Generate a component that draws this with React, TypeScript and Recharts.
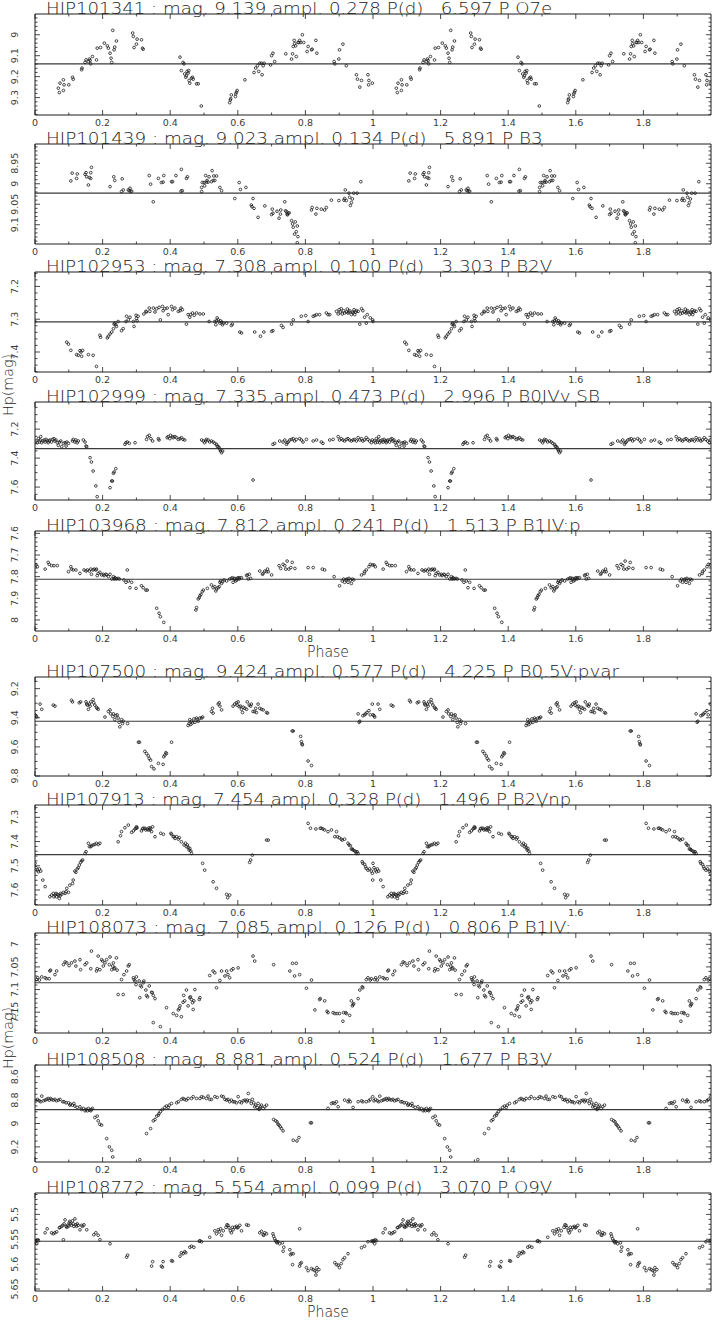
import React from 'react';
import { ScatterChart, Scatter, XAxis, YAxis, ReferenceLine } from 'recharts';

type Pt = [number, number]; // [phase, Hp mag], phase 0-1, plotted twice

const W = 713;
const H = 1321;
const PLOT_LEFT = 35;
const PLOT_RIGHT = 711;
const PAD_TOP = 4;
const AXIS_H = 20;
const INK = '#1c1c1c';
const TEXT = '#222';
const TICK_TEXT = '#3c3c3c';
const FONT = "'DejaVu Sans', 'Liberation Sans', sans-serif";

const phaseLabels = [0, 0.2, 0.4, 0.6, 0.8, 1, 1.2, 1.4, 1.6, 1.8];

const hip101341: Pt[] = [
  [0.069, 9.255], [0.072, 9.276], [0.074, 9.231], [0.084, 9.215], [0.086, 9.239], [0.084, 9.266],
  [0.1, 9.239], [0.111, 9.203], [0.113, 9.212], [0.138, 9.167], [0.139, 9.159], [0.148, 9.132],
  [0.151, 9.12], [0.158, 9.128], [0.163, 9.123], [0.161, 9.116], [0.165, 9.139], [0.17, 9.104],
  [0.182, 9.12], [0.184, 9.064], [0.194, 9.061], [0.205, 9.04], [0.214, 9.053], [0.217, 9.064],
  [0.222, 9.088], [0.225, 9.112], [0.227, 9.132], [0.23, 8.979], [0.234, 9.072], [0.236, 9.059],
  [0.241, 9.03], [0.289, 8.992], [0.291, 9.008], [0.293, 9.061], [0.3, 9.045], [0.302, 9.021],
  [0.315, 9.024], [0.318, 9.064], [0.32, 9.069], [0.429, 9.107], [0.433, 9.171], [0.438, 9.132],
  [0.441, 9.139], [0.443, 9.187], [0.446, 9.203], [0.448, 9.196], [0.45, 9.175], [0.453, 9.183],
  [0.455, 9.171], [0.456, 9.218], [0.458, 9.231], [0.463, 9.207], [0.466, 9.203], [0.468, 9.212],
  [0.478, 9.234], [0.483, 9.234], [0.492, 9.34], [0.576, 9.324], [0.578, 9.311], [0.579, 9.305],
  [0.581, 9.287], [0.593, 9.295], [0.594, 9.282], [0.596, 9.274], [0.598, 9.266], [0.621, 9.215],
  [0.648, 9.18], [0.653, 9.159], [0.658, 9.148], [0.662, 9.175], [0.665, 9.136], [0.67, 9.136],
  [0.672, 9.191], [0.675, 9.148], [0.678, 9.136], [0.697, 9.144], [0.7, 9.1], [0.704, 9.088],
  [0.709, 9.128], [0.742, 9.091], [0.759, 9.116], [0.762, 9.091], [0.764, 9.056], [0.767, 9.027],
  [0.768, 9.043], [0.771, 9.053], [0.773, 9.104], [0.778, 9.037], [0.781, 9.037], [0.783, 9.027],
  [0.786, 9.037], [0.791, 9.0], [0.795, 9.037], [0.805, 9.08], [0.808, 9.056], [0.818, 9.072],
  [0.82, 9.069], [0.831, 9.027], [0.834, 9.088], [0.885, 9.128], [0.887, 9.139], [0.899, 9.116],
  [0.901, 9.072], [0.911, 9.045], [0.921, 9.148], [0.951, 9.191], [0.954, 9.212], [0.961, 9.25],
  [0.966, 9.218], [0.985, 9.191], [0.988, 9.218], [0.987, 9.239], [0.998, 9.231],
];

const hip101439: Pt[] = [
  [0.106, 8.993], [0.11, 8.974], [0.123, 8.987], [0.125, 8.976], [0.148, 8.977], [0.151, 8.973],
  [0.153, 8.983], [0.158, 9.003], [0.161, 8.985], [0.165, 8.973], [0.167, 8.96], [0.165, 8.987],
  [0.222, 9.007], [0.233, 8.983], [0.236, 8.992], [0.256, 9.019], [0.258, 8.988], [0.261, 9.015],
  [0.276, 9.015], [0.279, 9.017], [0.281, 9.011], [0.283, 9.019], [0.286, 9.018], [0.338, 8.98],
  [0.342, 9.001], [0.35, 9.044], [0.365, 8.987], [0.374, 8.997], [0.379, 8.996], [0.381, 8.98],
  [0.404, 8.995], [0.407, 8.995], [0.417, 8.98], [0.432, 9.018], [0.433, 8.965], [0.436, 9.017],
  [0.448, 8.987], [0.451, 8.983], [0.493, 9.019], [0.493, 9.009], [0.495, 8.997], [0.5, 8.997],
  [0.502, 9.005], [0.505, 8.98], [0.507, 8.996], [0.509, 8.992], [0.512, 8.996], [0.515, 8.983],
  [0.522, 8.995], [0.524, 8.968], [0.527, 8.992], [0.529, 8.981], [0.532, 8.992], [0.537, 8.981],
  [0.547, 9.009], [0.552, 9.017], [0.591, 9.036], [0.604, 8.997], [0.608, 9.014], [0.624, 9.009],
  [0.64, 9.052], [0.642, 9.056], [0.645, 9.036], [0.648, 9.06], [0.66, 9.082], [0.68, 9.054],
  [0.7, 9.075], [0.702, 9.062], [0.704, 9.072], [0.716, 9.067], [0.722, 9.084], [0.726, 9.074],
  [0.727, 9.064], [0.739, 9.044], [0.741, 9.066], [0.744, 9.068], [0.746, 9.074], [0.747, 9.076],
  [0.749, 9.072], [0.752, 9.071], [0.759, 9.09], [0.762, 9.098], [0.764, 9.106], [0.768, 9.123],
  [0.77, 9.093], [0.773, 9.117], [0.776, 9.103], [0.778, 9.129], [0.776, 9.144], [0.818, 9.064],
  [0.82, 9.058], [0.831, 9.074], [0.834, 9.06], [0.847, 9.062], [0.857, 9.064], [0.862, 9.058],
  [0.877, 9.04], [0.899, 9.041], [0.914, 9.04], [0.916, 9.036], [0.918, 9.015], [0.921, 9.041],
  [0.929, 9.023], [0.931, 9.033], [0.933, 9.053], [0.936, 9.046], [0.939, 9.037], [0.943, 9.023],
  [0.953, 9.023], [0.964, 8.995],
];

const hip102953: Pt[] = [
  [0.0, 7.307], [0.094, 7.37], [0.099, 7.376], [0.106, 7.395], [0.123, 7.408], [0.128, 7.41],
  [0.133, 7.396], [0.136, 7.4], [0.138, 7.413], [0.141, 7.395], [0.158, 7.408], [0.172, 7.41],
  [0.182, 7.444], [0.192, 7.349], [0.194, 7.355], [0.214, 7.357], [0.217, 7.352], [0.222, 7.345],
  [0.227, 7.339], [0.232, 7.329], [0.234, 7.315], [0.236, 7.312], [0.239, 7.317], [0.241, 7.322],
  [0.246, 7.307], [0.256, 7.335], [0.261, 7.329], [0.269, 7.307], [0.271, 7.291], [0.276, 7.302],
  [0.281, 7.294], [0.291, 7.307], [0.293, 7.322], [0.299, 7.288], [0.3, 7.298], [0.302, 7.305],
  [0.305, 7.291], [0.322, 7.284], [0.328, 7.276], [0.33, 7.278], [0.338, 7.266], [0.34, 7.276],
  [0.35, 7.266], [0.355, 7.278], [0.36, 7.268], [0.367, 7.264], [0.371, 7.302], [0.377, 7.261],
  [0.379, 7.274], [0.384, 7.268], [0.391, 7.266], [0.394, 7.286], [0.404, 7.261], [0.407, 7.271],
  [0.414, 7.266], [0.424, 7.276], [0.429, 7.274], [0.432, 7.266], [0.436, 7.271], [0.448, 7.315],
  [0.453, 7.286], [0.458, 7.294], [0.46, 7.286], [0.466, 7.281], [0.471, 7.288], [0.478, 7.281],
  [0.488, 7.284], [0.498, 7.284], [0.515, 7.307], [0.532, 7.307], [0.535, 7.317], [0.537, 7.305],
  [0.539, 7.296], [0.542, 7.302], [0.547, 7.312], [0.549, 7.305], [0.552, 7.309], [0.555, 7.317],
  [0.557, 7.312], [0.567, 7.312], [0.581, 7.319], [0.584, 7.315], [0.606, 7.339], [0.611, 7.342],
  [0.65, 7.339], [0.667, 7.352], [0.677, 7.339], [0.7, 7.337], [0.704, 7.335], [0.729, 7.319],
  [0.734, 7.325], [0.759, 7.315], [0.764, 7.302], [0.788, 7.291], [0.801, 7.289], [0.808, 7.307],
  [0.823, 7.291], [0.828, 7.289], [0.833, 7.286], [0.842, 7.286], [0.862, 7.281], [0.867, 7.286],
  [0.872, 7.286], [0.892, 7.276], [0.897, 7.284], [0.9, 7.271], [0.903, 7.278], [0.906, 7.268],
  [0.909, 7.284], [0.913, 7.274], [0.916, 7.281], [0.921, 7.278], [0.924, 7.269], [0.926, 7.281],
  [0.929, 7.278], [0.931, 7.274], [0.936, 7.286], [0.939, 7.278], [0.941, 7.281], [0.944, 7.271],
  [0.946, 7.286], [0.949, 7.278], [0.951, 7.274], [0.956, 7.276], [0.961, 7.315], [0.966, 7.268],
  [0.97, 7.274], [0.975, 7.294], [0.98, 7.312], [0.983, 7.286], [0.992, 7.296], [0.999, 7.302],
];

const hip102999: Pt[] = [
  [0.003, 7.282], [0.007, 7.294], [0.01, 7.266], [0.013, 7.289], [0.015, 7.275], [0.017, 7.252],
  [0.02, 7.294], [0.023, 7.282], [0.027, 7.275], [0.03, 7.289], [0.033, 7.271], [0.036, 7.282],
  [0.039, 7.294], [0.042, 7.282], [0.044, 7.275], [0.049, 7.289], [0.052, 7.271], [0.056, 7.266],
  [0.059, 7.282], [0.062, 7.275], [0.066, 7.294], [0.069, 7.312], [0.072, 7.289], [0.076, 7.282],
  [0.079, 7.321], [0.084, 7.298], [0.089, 7.294], [0.092, 7.317], [0.094, 7.289], [0.099, 7.298],
  [0.111, 7.282], [0.113, 7.271], [0.118, 7.289], [0.121, 7.275], [0.125, 7.294], [0.128, 7.282],
  [0.143, 7.275], [0.148, 7.289], [0.151, 7.317], [0.153, 7.321], [0.163, 7.397], [0.167, 7.427],
  [0.172, 7.489], [0.18, 7.592], [0.184, 7.666], [0.222, 7.604], [0.227, 7.558], [0.229, 7.558],
  [0.232, 7.505], [0.234, 7.496], [0.239, 7.473], [0.266, 7.305], [0.269, 7.294], [0.273, 7.289],
  [0.279, 7.298], [0.296, 7.294], [0.33, 7.271], [0.333, 7.252], [0.338, 7.243], [0.343, 7.266],
  [0.348, 7.282], [0.365, 7.266], [0.367, 7.275], [0.391, 7.259], [0.394, 7.252], [0.399, 7.266],
  [0.401, 7.243], [0.407, 7.252], [0.409, 7.259], [0.414, 7.252], [0.419, 7.259], [0.424, 7.271],
  [0.429, 7.266], [0.433, 7.259], [0.438, 7.271], [0.443, 7.275], [0.493, 7.275], [0.498, 7.282],
  [0.502, 7.294], [0.505, 7.282], [0.507, 7.271], [0.512, 7.275], [0.517, 7.289], [0.522, 7.282],
  [0.527, 7.289], [0.532, 7.298], [0.537, 7.305], [0.539, 7.317], [0.542, 7.321], [0.545, 7.328],
  [0.547, 7.34], [0.549, 7.351], [0.552, 7.363], [0.555, 7.351], [0.645, 7.551], [0.704, 7.305],
  [0.709, 7.298], [0.724, 7.282], [0.734, 7.289], [0.739, 7.275], [0.744, 7.305], [0.746, 7.294],
  [0.749, 7.289], [0.754, 7.275], [0.759, 7.271], [0.764, 7.266], [0.768, 7.282], [0.773, 7.271],
  [0.783, 7.266], [0.788, 7.275], [0.793, 7.289], [0.803, 7.271], [0.823, 7.282], [0.833, 7.275],
  [0.847, 7.289], [0.852, 7.298], [0.872, 7.275], [0.882, 7.271], [0.897, 7.252], [0.901, 7.275],
  [0.906, 7.266], [0.911, 7.275], [0.916, 7.282], [0.921, 7.271], [0.926, 7.266], [0.931, 7.275],
  [0.936, 7.282], [0.941, 7.275], [0.946, 7.271], [0.951, 7.282], [0.956, 7.259], [0.961, 7.275],
  [0.966, 7.266], [0.97, 7.282], [0.975, 7.275], [0.98, 7.259], [0.985, 7.271], [0.99, 7.282],
  [0.995, 7.294], [0.998, 7.275],
];

const hip103968: Pt[] = [
  [0.003, 7.746], [0.007, 7.754], [0.03, 7.765], [0.039, 7.734], [0.042, 7.743], [0.049, 7.749],
  [0.056, 7.749], [0.066, 7.749], [0.099, 7.777], [0.106, 7.754], [0.108, 7.765], [0.113, 7.769],
  [0.121, 7.769], [0.133, 7.785], [0.145, 7.769], [0.151, 7.774], [0.155, 7.769], [0.161, 7.774],
  [0.165, 7.765], [0.167, 7.789], [0.172, 7.769], [0.175, 7.765], [0.18, 7.769], [0.182, 7.765],
  [0.184, 7.795], [0.187, 7.785], [0.192, 7.78], [0.197, 7.792], [0.202, 7.789], [0.204, 7.795],
  [0.21, 7.789], [0.212, 7.792], [0.217, 7.8], [0.222, 7.789], [0.227, 7.811], [0.232, 7.8],
  [0.236, 7.805], [0.234, 7.811], [0.239, 7.808], [0.241, 7.811], [0.246, 7.808], [0.25, 7.811],
  [0.263, 7.815], [0.269, 7.826], [0.273, 7.769], [0.276, 7.82], [0.281, 7.851], [0.286, 7.826],
  [0.299, 7.854], [0.315, 7.842], [0.32, 7.851], [0.328, 7.862], [0.332, 7.862], [0.36, 7.946],
  [0.367, 7.969], [0.371, 7.985], [0.381, 8.011], [0.476, 7.954], [0.478, 7.943], [0.483, 7.903],
  [0.486, 7.897], [0.488, 7.888], [0.491, 7.882], [0.495, 7.869], [0.498, 7.862], [0.51, 7.854],
  [0.522, 7.838], [0.527, 7.851], [0.532, 7.846], [0.535, 7.866], [0.537, 7.857], [0.542, 7.851],
  [0.545, 7.846], [0.547, 7.826], [0.549, 7.82], [0.552, 7.831], [0.555, 7.823], [0.559, 7.815],
  [0.567, 7.82], [0.576, 7.811], [0.581, 7.808], [0.584, 7.805], [0.586, 7.826], [0.589, 7.811],
  [0.591, 7.808], [0.594, 7.82], [0.596, 7.815], [0.598, 7.808], [0.601, 7.805], [0.604, 7.811],
  [0.606, 7.805], [0.611, 7.805], [0.626, 7.795], [0.628, 7.792], [0.631, 7.811], [0.634, 7.789],
  [0.638, 7.808], [0.665, 7.774], [0.673, 7.789], [0.675, 7.785], [0.68, 7.774], [0.685, 7.777],
  [0.688, 7.765], [0.69, 7.777], [0.7, 7.792], [0.722, 7.749], [0.727, 7.762], [0.734, 7.743],
  [0.739, 7.749], [0.742, 7.765], [0.746, 7.728], [0.751, 7.765], [0.757, 7.758], [0.761, 7.734],
  [0.769, 7.762], [0.808, 7.758], [0.823, 7.758], [0.85, 7.765], [0.857, 7.769], [0.885, 7.8],
  [0.901, 7.842], [0.909, 7.82], [0.913, 7.811], [0.916, 7.826], [0.921, 7.815], [0.923, 7.811],
  [0.926, 7.826], [0.929, 7.808], [0.933, 7.815], [0.936, 7.831], [0.939, 7.811], [0.943, 7.815],
  [0.966, 7.792], [0.974, 7.785], [0.975, 7.777], [0.98, 7.769], [0.988, 7.754], [0.992, 7.743],
  [0.998, 7.746],
];

const hip107500: Pt[] = [
  [0.0, 9.38], [0.003, 9.386], [0.005, 9.395], [0.015, 9.306], [0.02, 9.342], [0.054, 9.313],
  [0.059, 9.32], [0.108, 9.28], [0.111, 9.291], [0.131, 9.297], [0.135, 9.291], [0.151, 9.291],
  [0.153, 9.306], [0.155, 9.313], [0.158, 9.342], [0.161, 9.306], [0.163, 9.32], [0.165, 9.291],
  [0.172, 9.275], [0.174, 9.297], [0.177, 9.313], [0.182, 9.328], [0.184, 9.335], [0.187, 9.342],
  [0.207, 9.395], [0.217, 9.357], [0.222, 9.346], [0.224, 9.373], [0.23, 9.391], [0.232, 9.373],
  [0.236, 9.413], [0.239, 9.386], [0.243, 9.38], [0.246, 9.402], [0.249, 9.431], [0.251, 9.462],
  [0.256, 9.413], [0.259, 9.44], [0.261, 9.424], [0.274, 9.44], [0.306, 9.568], [0.309, 9.568],
  [0.325, 9.631], [0.33, 9.646], [0.335, 9.662], [0.338, 9.68], [0.342, 9.691], [0.345, 9.735],
  [0.352, 9.751], [0.365, 9.713], [0.379, 9.72], [0.381, 9.668], [0.384, 9.657], [0.387, 9.64],
  [0.389, 9.646], [0.404, 9.568], [0.453, 9.453], [0.456, 9.44], [0.458, 9.413], [0.461, 9.446],
  [0.463, 9.424], [0.466, 9.435], [0.47, 9.408], [0.473, 9.431], [0.478, 9.402], [0.48, 9.413],
  [0.483, 9.424], [0.488, 9.402], [0.493, 9.402], [0.496, 9.395], [0.522, 9.357], [0.525, 9.335],
  [0.527, 9.368], [0.542, 9.306], [0.545, 9.297], [0.547, 9.32], [0.552, 9.346], [0.586, 9.32],
  [0.591, 9.306], [0.596, 9.297], [0.598, 9.313], [0.601, 9.291], [0.604, 9.324], [0.608, 9.32],
  [0.611, 9.342], [0.614, 9.364], [0.616, 9.328], [0.621, 9.335], [0.626, 9.342], [0.628, 9.291],
  [0.634, 9.313], [0.638, 9.32], [0.64, 9.306], [0.645, 9.357], [0.65, 9.357], [0.653, 9.335],
  [0.655, 9.364], [0.66, 9.306], [0.665, 9.335], [0.67, 9.342], [0.675, 9.346], [0.685, 9.364],
  [0.688, 9.368], [0.761, 9.491], [0.764, 9.491], [0.786, 9.528], [0.788, 9.564], [0.79, 9.58],
  [0.791, 9.586], [0.808, 9.697], [0.818, 9.728], [0.956, 9.373], [0.959, 9.431], [0.961, 9.424],
  [0.97, 9.386], [0.975, 9.38], [0.978, 9.373], [0.982, 9.364], [0.988, 9.351], [0.992, 9.38],
  [0.998, 9.306],
];

const hip107913: Pt[] = [
  [0.0, 7.49], [0.003, 7.508], [0.007, 7.518], [0.01, 7.525], [0.013, 7.513], [0.017, 7.522],
  [0.023, 7.559], [0.03, 7.586], [0.044, 7.628], [0.049, 7.621], [0.054, 7.614], [0.056, 7.628],
  [0.059, 7.621], [0.062, 7.614], [0.064, 7.628], [0.066, 7.618], [0.069, 7.621], [0.072, 7.635],
  [0.074, 7.624], [0.076, 7.614], [0.079, 7.618], [0.084, 7.61], [0.089, 7.614], [0.092, 7.607],
  [0.094, 7.593], [0.099, 7.61], [0.103, 7.58], [0.111, 7.573], [0.113, 7.559], [0.118, 7.522],
  [0.121, 7.527], [0.125, 7.513], [0.128, 7.508], [0.131, 7.497], [0.135, 7.486], [0.138, 7.48],
  [0.141, 7.476], [0.148, 7.449], [0.151, 7.442], [0.158, 7.407], [0.161, 7.421], [0.165, 7.421],
  [0.167, 7.417], [0.172, 7.414], [0.177, 7.412], [0.182, 7.407], [0.187, 7.412], [0.192, 7.407],
  [0.246, 7.401], [0.253, 7.376], [0.256, 7.359], [0.266, 7.343], [0.276, 7.332], [0.286, 7.362],
  [0.291, 7.356], [0.296, 7.348], [0.299, 7.345], [0.3, 7.339], [0.302, 7.343], [0.315, 7.356],
  [0.318, 7.348], [0.32, 7.345], [0.325, 7.345], [0.328, 7.352], [0.332, 7.348], [0.335, 7.352],
  [0.338, 7.343], [0.34, 7.352], [0.342, 7.345], [0.345, 7.359], [0.348, 7.339], [0.355, 7.38],
  [0.372, 7.366], [0.38, 7.37], [0.402, 7.366], [0.404, 7.37], [0.409, 7.38], [0.412, 7.38],
  [0.414, 7.387], [0.419, 7.38], [0.424, 7.39], [0.427, 7.384], [0.433, 7.401], [0.441, 7.414],
  [0.445, 7.407], [0.448, 7.421], [0.451, 7.414], [0.453, 7.425], [0.456, 7.435], [0.458, 7.428],
  [0.461, 7.439], [0.463, 7.449], [0.496, 7.49], [0.502, 7.518], [0.527, 7.566], [0.537, 7.593],
  [0.567, 7.618], [0.57, 7.632], [0.576, 7.621], [0.635, 7.486], [0.638, 7.476], [0.643, 7.456],
  [0.685, 7.394], [0.69, 7.394], [0.808, 7.325], [0.815, 7.345], [0.831, 7.348], [0.844, 7.345],
  [0.847, 7.345], [0.852, 7.348], [0.857, 7.352], [0.867, 7.359], [0.877, 7.352], [0.887, 7.38],
  [0.892, 7.359], [0.895, 7.38], [0.9, 7.384], [0.906, 7.39], [0.909, 7.394], [0.916, 7.39],
  [0.926, 7.407], [0.929, 7.414], [0.933, 7.417], [0.936, 7.431], [0.939, 7.431], [0.941, 7.435],
  [0.946, 7.439], [0.949, 7.442], [0.951, 7.449], [0.953, 7.442], [0.956, 7.449], [0.968, 7.483],
  [0.97, 7.49], [0.975, 7.494], [0.978, 7.504], [0.98, 7.511], [0.985, 7.518], [0.99, 7.513],
  [0.995, 7.522], [0.998, 7.531], [0.999, 7.559],
];

const hip108073: Pt[] = [
  [0.005, 7.078], [0.008, 7.074], [0.013, 7.079], [0.02, 7.072], [0.03, 7.074], [0.034, 7.076],
  [0.042, 7.076], [0.044, 7.059], [0.046, 7.057], [0.059, 7.067], [0.064, 7.059], [0.084, 7.045],
  [0.089, 7.039], [0.094, 7.041], [0.101, 7.047], [0.108, 7.041], [0.118, 7.037], [0.121, 7.048],
  [0.133, 7.034], [0.135, 7.056], [0.148, 7.045], [0.153, 7.041], [0.165, 7.054], [0.167, 7.015],
  [0.182, 7.059], [0.184, 7.054], [0.187, 7.026], [0.192, 7.056], [0.197, 7.034], [0.2, 7.037],
  [0.202, 7.048], [0.207, 7.041], [0.212, 7.034], [0.22, 7.045], [0.222, 7.028], [0.227, 7.056],
  [0.23, 7.048], [0.232, 7.041], [0.234, 7.054], [0.236, 7.052], [0.241, 7.03], [0.243, 7.057],
  [0.246, 7.111], [0.256, 7.078], [0.261, 7.111], [0.263, 7.067], [0.271, 7.059], [0.276, 7.048],
  [0.279, 7.045], [0.291, 7.074], [0.293, 7.078], [0.296, 7.081], [0.299, 7.089], [0.3, 7.072],
  [0.308, 7.081], [0.31, 7.118], [0.312, 7.091], [0.315, 7.094], [0.32, 7.085], [0.322, 7.081],
  [0.328, 7.101], [0.33, 7.113], [0.333, 7.116], [0.338, 7.092], [0.345, 7.106], [0.347, 7.107],
  [0.35, 7.113], [0.355, 7.12], [0.35, 7.173], [0.371, 7.182], [0.389, 7.14], [0.409, 7.153],
  [0.419, 7.157], [0.424, 7.145], [0.427, 7.142], [0.429, 7.136], [0.433, 7.16], [0.438, 7.128],
  [0.44, 7.113], [0.443, 7.125], [0.448, 7.101], [0.453, 7.136], [0.458, 7.118], [0.46, 7.116],
  [0.463, 7.122], [0.466, 7.129], [0.468, 7.144], [0.47, 7.125], [0.473, 7.1], [0.486, 7.122],
  [0.488, 7.118], [0.517, 7.069], [0.527, 7.059], [0.532, 7.063], [0.537, 7.096], [0.547, 7.08],
  [0.552, 7.059], [0.562, 7.07], [0.567, 7.059], [0.571, 7.067], [0.576, 7.074], [0.581, 7.057],
  [0.586, 7.054], [0.601, 7.052], [0.645, 7.026], [0.65, 7.037], [0.706, 7.045], [0.754, 7.059],
  [0.762, 7.042], [0.768, 7.07], [0.773, 7.042], [0.783, 7.067], [0.803, 7.097], [0.818, 7.079],
  [0.828, 7.145], [0.842, 7.122], [0.844, 7.12], [0.857, 7.125], [0.864, 7.148], [0.867, 7.151],
  [0.882, 7.151], [0.887, 7.153], [0.894, 7.153], [0.901, 7.153], [0.911, 7.17], [0.913, 7.151],
  [0.919, 7.151], [0.921, 7.153], [0.931, 7.157], [0.936, 7.125], [0.939, 7.136], [0.941, 7.133],
  [0.943, 7.131], [0.956, 7.12], [0.961, 7.101], [0.968, 7.094], [0.97, 7.096], [0.98, 7.078],
  [0.985, 7.074], [0.992, 7.079], [0.995, 7.076],
];

const hip108508: Pt[] = [
  [0.003, 8.806], [0.007, 8.794], [0.013, 8.806], [0.017, 8.814], [0.02, 8.766], [0.025, 8.806],
  [0.03, 8.8], [0.034, 8.794], [0.039, 8.786], [0.042, 8.8], [0.046, 8.786], [0.049, 8.794],
  [0.054, 8.8], [0.059, 8.794], [0.064, 8.806], [0.069, 8.8], [0.074, 8.794], [0.082, 8.814],
  [0.086, 8.814], [0.092, 8.823], [0.099, 8.823], [0.103, 8.843], [0.105, 8.834], [0.111, 8.843],
  [0.115, 8.829], [0.118, 8.851], [0.125, 8.863], [0.133, 8.857], [0.138, 8.88], [0.143, 8.871],
  [0.148, 8.891], [0.151, 8.88], [0.155, 8.891], [0.158, 8.871], [0.161, 8.886], [0.165, 8.891],
  [0.167, 8.88], [0.17, 8.871], [0.177, 8.949], [0.184, 8.937], [0.187, 8.977], [0.192, 9.006],
  [0.197, 9.014], [0.212, 9.129], [0.22, 9.2], [0.227, 9.229], [0.23, 9.286], [0.31, 9.309],
  [0.33, 9.086], [0.342, 9.043], [0.35, 8.977], [0.355, 8.966], [0.36, 8.937], [0.365, 8.929],
  [0.367, 8.914], [0.371, 8.9], [0.377, 8.88], [0.384, 8.863], [0.389, 8.851], [0.394, 8.863],
  [0.397, 8.843], [0.404, 8.829], [0.419, 8.823], [0.424, 8.814], [0.433, 8.794], [0.438, 8.786],
  [0.443, 8.794], [0.448, 8.8], [0.453, 8.786], [0.463, 8.786], [0.468, 8.771], [0.478, 8.786],
  [0.488, 8.786], [0.493, 8.771], [0.498, 8.777], [0.507, 8.786], [0.512, 8.766], [0.517, 8.794],
  [0.522, 8.794], [0.532, 8.771], [0.539, 8.777], [0.552, 8.766], [0.557, 8.771], [0.562, 8.794],
  [0.567, 8.8], [0.571, 8.794], [0.576, 8.814], [0.581, 8.8], [0.586, 8.814], [0.591, 8.814],
  [0.596, 8.823], [0.601, 8.771], [0.606, 8.814], [0.611, 8.823], [0.616, 8.806], [0.621, 8.8],
  [0.626, 8.814], [0.628, 8.8], [0.631, 8.743], [0.635, 8.806], [0.64, 8.829], [0.643, 8.794],
  [0.647, 8.823], [0.65, 8.857], [0.653, 8.843], [0.657, 8.863], [0.66, 8.829], [0.663, 8.88],
  [0.665, 8.871], [0.667, 8.857], [0.67, 8.843], [0.675, 8.871], [0.68, 8.857], [0.685, 8.843],
  [0.706, 8.966], [0.712, 8.977], [0.716, 8.986], [0.719, 9.006], [0.722, 9.014], [0.726, 9.029],
  [0.729, 9.043], [0.734, 9.063], [0.764, 9.143], [0.775, 9.149], [0.781, 9.12], [0.815, 8.994],
  [0.818, 8.994], [0.867, 8.871], [0.877, 8.829], [0.882, 8.823], [0.887, 8.829], [0.892, 8.814],
  [0.897, 8.857], [0.916, 8.8], [0.926, 8.814], [0.929, 8.8], [0.933, 8.814], [0.941, 8.863],
  [0.956, 8.814], [0.966, 8.806], [0.97, 8.814], [0.98, 8.814], [0.988, 8.806], [0.992, 8.794],
  [0.999, 8.771],
];

const hip108772: Pt[] = [
  [0.0, 5.555], [0.003, 5.553], [0.005, 5.559], [0.007, 5.551], [0.01, 5.553], [0.03, 5.537],
  [0.036, 5.529], [0.049, 5.537], [0.054, 5.539], [0.059, 5.537], [0.064, 5.535], [0.072, 5.527],
  [0.074, 5.526], [0.079, 5.524], [0.082, 5.522], [0.084, 5.551], [0.086, 5.519], [0.089, 5.511],
  [0.092, 5.524], [0.094, 5.526], [0.097, 5.522], [0.099, 5.524], [0.101, 5.517], [0.103, 5.514],
  [0.105, 5.519], [0.108, 5.522], [0.111, 5.513], [0.113, 5.519], [0.115, 5.524], [0.118, 5.509],
  [0.121, 5.521], [0.123, 5.524], [0.125, 5.519], [0.128, 5.522], [0.133, 5.531], [0.138, 5.522],
  [0.141, 5.524], [0.145, 5.521], [0.153, 5.531], [0.174, 5.541], [0.18, 5.537], [0.187, 5.542],
  [0.192, 5.551], [0.222, 5.559], [0.271, 5.586], [0.274, 5.582], [0.345, 5.604], [0.348, 5.595],
  [0.374, 5.604], [0.377, 5.606], [0.379, 5.595], [0.404, 5.593], [0.407, 5.594], [0.429, 5.584],
  [0.433, 5.577], [0.438, 5.579], [0.443, 5.575], [0.446, 5.577], [0.458, 5.566], [0.463, 5.564],
  [0.47, 5.566], [0.486, 5.554], [0.488, 5.553], [0.493, 5.555], [0.517, 5.546], [0.532, 5.533],
  [0.537, 5.539], [0.542, 5.531], [0.545, 5.535], [0.549, 5.529], [0.552, 5.542], [0.557, 5.533],
  [0.565, 5.526], [0.568, 5.521], [0.571, 5.522], [0.574, 5.527], [0.578, 5.533], [0.581, 5.537],
  [0.584, 5.526], [0.586, 5.531], [0.591, 5.526], [0.596, 5.524], [0.598, 5.527], [0.601, 5.526],
  [0.606, 5.522], [0.611, 5.533], [0.626, 5.521], [0.631, 5.522], [0.665, 5.537], [0.67, 5.534],
  [0.675, 5.541], [0.677, 5.542], [0.68, 5.537], [0.685, 5.539], [0.704, 5.539], [0.706, 5.544],
  [0.709, 5.549], [0.712, 5.553], [0.714, 5.555], [0.716, 5.557], [0.719, 5.555], [0.724, 5.559],
  [0.732, 5.557], [0.734, 5.574], [0.736, 5.566], [0.754, 5.571], [0.756, 5.581], [0.759, 5.579],
  [0.762, 5.601], [0.764, 5.579], [0.783, 5.529], [0.783, 5.604], [0.785, 5.599], [0.788, 5.597],
  [0.803, 5.607], [0.808, 5.613], [0.818, 5.609], [0.823, 5.611], [0.828, 5.613], [0.831, 5.622],
  [0.833, 5.615], [0.834, 5.607], [0.84, 5.611], [0.887, 5.597], [0.892, 5.601], [0.897, 5.602],
  [0.901, 5.607], [0.906, 5.599], [0.911, 5.591], [0.916, 5.587], [0.926, 5.579], [0.966, 5.567],
  [0.975, 5.564], [0.985, 5.555], [0.995, 5.554], [0.999, 5.553],
];

const stars = [
  { id: 'HIP101341', mag: 9.139, ampl: 0.278, period: 6.597, sp: 'O7e', pts: hip101341 },
  { id: 'HIP101439', mag: 9.023, ampl: 0.134, period: 5.891, sp: 'B3', pts: hip101439 },
  { id: 'HIP102953', mag: 7.308, ampl: 0.1, period: 3.303, sp: 'B2V', pts: hip102953 },
  { id: 'HIP102999', mag: 7.335, ampl: 0.473, period: 2.996, sp: 'B0IVv SB', pts: hip102999 },
  { id: 'HIP103968', mag: 7.812, ampl: 0.241, period: 1.513, sp: 'B1IV:p', pts: hip103968 },
  { id: 'HIP107500', mag: 9.424, ampl: 0.577, period: 4.225, sp: 'B0.5V:pvar', pts: hip107500 },
  { id: 'HIP107913', mag: 7.454, ampl: 0.328, period: 1.496, sp: 'B2Vnp', pts: hip107913 },
  { id: 'HIP108073', mag: 7.085, ampl: 0.126, period: 0.806, sp: 'B1IV:', pts: hip108073 },
  { id: 'HIP108508', mag: 8.881, ampl: 0.524, period: 1.677, sp: 'B3V', pts: hip108508 },
  { id: 'HIP108772', mag: 5.554, ampl: 0.099, period: 3.07, sp: 'O9V', pts: hip108772 },
];

// frame top (px), frame height, magnitude range, labelled ticks, minor tick step
const layout = [
  { top: 14, h: 101, domain: [8.901, 9.383], labels: [9, 9.1, 9.2, 9.3], minor: 0.02 },
  { top: 144, h: 100, domain: [8.903, 9.147], labels: [8.95, 9, 9.05, 9.1], minor: 0.01 },
  { top: 272, h: 100, domain: [7.156, 7.461], labels: [7.2, 7.3, 7.4], minor: 0.02 },
  { top: 402, h: 98, domain: [7.013, 7.689], labels: [7.2, 7.4, 7.6], minor: 0.05 },
  { top: 531, h: 100, domain: [7.589, 8.051], labels: [7.6, 7.7, 7.8, 7.9, 8], minor: 0.02 },
  { top: 677, h: 99, domain: [9.12, 9.8], labels: [9.2, 9.4, 9.6, 9.8], minor: 0.05 },
  { top: 805, h: 100, domain: [7.249, 7.662], labels: [7.3, 7.4, 7.5, 7.6], minor: 0.02 },
  { top: 933, h: 100, domain: [6.975, 7.196], labels: [7, 7.05, 7.1, 7.15], minor: 0.01 },
  { top: 1065, h: 97, domain: [8.5, 9.329], labels: [8.6, 8.8, 9, 9.2], minor: 0.05 },
  { top: 1193, h: 98, domain: [5.457, 5.654], labels: [5.5, 5.55, 5.6, 5.65], minor: 0.01 },
];

const fmt = (v: number) => String(Number(v.toFixed(3)));
const near = (list: number[], v: number) => list.some((l) => Math.abs(l - v) < 1e-6);

const xTicks = Array.from({ length: 20 }, (_, i) => Number((i * 0.1).toFixed(1)));

const minorTicks = (lo: number, hi: number, step: number) => {
  const out: number[] = [];
  for (let k = Math.ceil(lo / step - 1e-9); k * step <= hi + 1e-9; k++) {
    out.push(Number((k * step).toFixed(4)));
  }
  return out;
};

const Dot = (props: any) => (
  <circle cx={props.cx} cy={props.cy} r={1.35} fill="none" stroke={INK} strokeWidth={0.8} />
);

function Panel({ star, lay }: { star: (typeof stars)[number]; lay: (typeof layout)[number] }) {
  const data = [
    ...star.pts.map(([p, m]) => ({ p, m })),
    ...star.pts.map(([p, m]) => ({ p: p + 1, m })),
  ];
  const frameTop = PAD_TOP;
  const frameBottom = PAD_TOP + lay.h;
  const yTicks = minorTicks(lay.domain[0], lay.domain[1], lay.minor);

  const renderX = (props: any) => {
    const { x, payload } = props;
    const major = near(phaseLabels, payload.value);
    const len = major ? 5 : 2.5;
    return (
      <g>
        <line x1={x} x2={x} y1={frameBottom} y2={frameBottom - len} stroke={INK} strokeWidth={0.8} />
        <line x1={x} x2={x} y1={frameTop} y2={frameTop + len} stroke={INK} strokeWidth={0.8} />
        {major && (
          <text x={x} y={frameBottom + 11} textAnchor="middle" fontSize={9.5} fill={TICK_TEXT}>
            {fmt(payload.value)}
          </text>
        )}
      </g>
    );
  };

  const renderY = (props: any) => {
    const { y, payload } = props;
    const major = near(lay.labels, payload.value);
    const len = major ? 5 : 2.5;
    return (
      <g>
        <line x1={PLOT_LEFT} x2={PLOT_LEFT + len} y1={y} y2={y} stroke={INK} strokeWidth={0.8} />
        <line x1={PLOT_RIGHT} x2={PLOT_RIGHT - len} y1={y} y2={y} stroke={INK} strokeWidth={0.8} />
        {major && (
          <text
            x={18}
            y={y}
            transform={`rotate(-90 18 ${y})`}
            textAnchor="middle"
            fontSize={9.5}
            fill={TICK_TEXT}
          >
            {fmt(payload.value)}
          </text>
        )}
      </g>
    );
  };

  return (
    <div style={{ position: 'absolute', left: 0, top: lay.top - PAD_TOP }}>
      <ScatterChart
        width={W}
        height={PAD_TOP + lay.h + AXIS_H}
        margin={{ top: PAD_TOP, right: W - PLOT_RIGHT, bottom: 0, left: 0 }}
      >
        <XAxis
          type="number"
          dataKey="p"
          domain={[0, 2]}
          ticks={xTicks}
          interval={0}
          tick={renderX}
          tickLine={false}
          axisLine={{ stroke: INK }}
          height={AXIS_H}
          allowDataOverflow
        />
        <YAxis
          type="number"
          dataKey="m"
          domain={lay.domain}
          reversed
          ticks={yTicks}
          interval={0}
          tick={renderY}
          tickLine={false}
          axisLine={{ stroke: INK }}
          width={PLOT_LEFT}
          allowDataOverflow
        />
        <ReferenceLine y={lay.domain[0]} stroke={INK} />
        <ReferenceLine x={2} stroke={INK} />
        <ReferenceLine y={star.mag} stroke="#3a3a3a" strokeWidth={1.2} />
        <Scatter data={data} isAnimationActive={false} shape={Dot} />
      </ScatterChart>
    </div>
  );
}

export default function App() {
  return (
    <div
      style={{
        position: 'absolute',
        left: 0,
        top: 0,
        width: W,
        height: H,
        background: '#fff',
        fontFamily: FONT,
      }}
    >
      {stars.map((s, i) => (
        <Panel key={s.id} star={s} lay={layout[i]} />
      ))}
      <svg
        width={W}
        height={H}
        style={{ position: 'absolute', left: 0, top: 0, pointerEvents: 'none' }}
      >
        {stars.map((s, i) => {
          const title = `${s.id} : mag. ${s.mag.toFixed(3)} ampl. ${s.ampl.toFixed(3)} P(d)   ${s.period.toFixed(3)} P ${s.sp}`;
          return (
            <text
              key={s.id}
              x={46}
              y={layout[i].top - 0.5}
              fontSize={16}
              fontWeight={200}
              fill={TEXT}
              textLength={title.length * 9.55}
              lengthAdjust="spacingAndGlyphs"
              style={{ whiteSpace: 'pre' }}
            >
              {title}
            </text>
          );
        })}
        {[385, 1038].map((cy) => (
          <text
            key={cy}
            x={13}
            y={cy}
            transform={`rotate(-90 13 ${cy})`}
            textAnchor="middle"
            fontSize={14}
            fontWeight={200}
            fill={TEXT}
            textLength={62}
            lengthAdjust="spacingAndGlyphs"
          >
            Hp(mag)
          </text>
        ))}
        {[657, 1317].map((by) => (
          <text
            key={by}
            x={307}
            y={by}
            fontSize={16}
            fontWeight={200}
            fill={TEXT}
            textLength={42}
            lengthAdjust="spacingAndGlyphs"
          >
            Phase
          </text>
        ))}
      </svg>
    </div>
  );
}
